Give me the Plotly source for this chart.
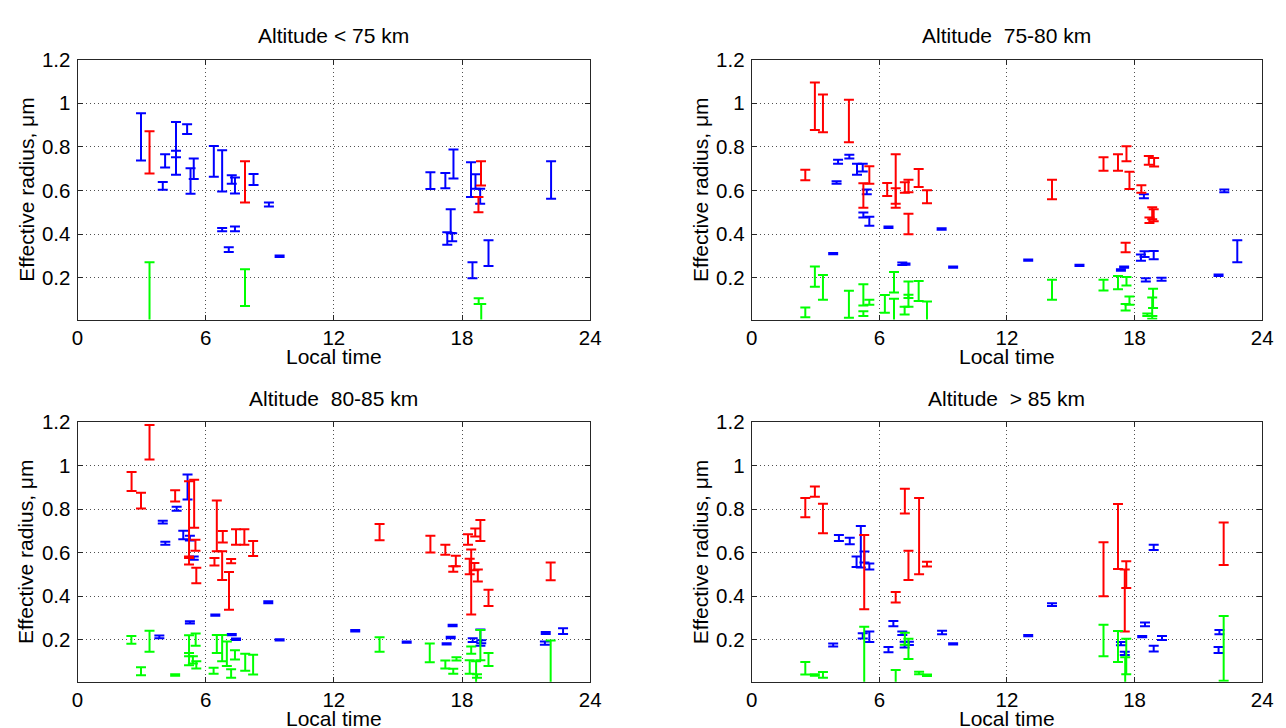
import plotly.graph_objects as go

W, H = 1286, 728

# ---------------- data: local time (h), lower / upper bounds of effective radius (um) ----------------
# Panel 1: Altitude < 75 km
p1_blue_x = [2.97, 3.99, 4.10, 4.61, 4.61, 5.13, 5.44, 5.29, 6.38, 6.77, 6.77, 7.37, 7.08, 7.22, 7.37, 8.24, 8.96, 9.46,
             16.52, 17.22, 17.60, 17.47, 17.31, 17.54, 18.42, 18.63, 18.85, 18.49, 19.24, 22.17]
p1_blue_lo = [0.737, 0.603, 0.705, 0.752, 0.672, 0.859, 0.652, 0.585, 0.663, 0.595, 0.413, 0.413, 0.318, 0.630, 0.586, 0.625, 0.526, 0.295,
              0.606, 0.610, 0.654, 0.405, 0.351, 0.367, 0.570, 0.607, 0.539, 0.197, 0.254, 0.562]
p1_blue_hi = [0.954, 0.639, 0.766, 0.913, 0.782, 0.903, 0.746, 0.702, 0.803, 0.784, 0.428, 0.434, 0.339, 0.669, 0.659, 0.675, 0.544, 0.301,
              0.683, 0.680, 0.787, 0.514, 0.408, 0.404, 0.729, 0.674, 0.607, 0.271, 0.372, 0.734]
p1_red_x = [3.37, 7.84, 18.89, 18.77]
p1_red_lo = [0.677, 0.544, 0.622, 0.500]
p1_red_hi = [0.871, 0.734, 0.734, 0.570]
p1_green_x = [3.37, 7.84, 18.78, 18.90]
p1_green_lo = [-0.06, 0.070, 0.079, -0.03]
p1_green_hi = [0.271, 0.238, 0.106, 0.079]

# Panel 2: Altitude 75-80 km
p2_red_x = [2.52, 2.97, 3.35, 4.57, 5.25, 5.53, 6.37, 6.77, 6.77, 7.20, 7.37, 7.37, 7.85, 8.24,
            14.12, 16.54, 17.22, 17.62, 17.76, 17.58, 18.32, 18.67, 18.92, 18.83, 18.70, 18.90]
p2_red_lo = [0.646, 0.877, 0.867, 0.821, 0.520, 0.631, 0.574, 0.539, 0.520, 0.589, 0.592, 0.399, 0.615, 0.541,
             0.559, 0.690, 0.690, 0.734, 0.606, 0.316, 0.589, 0.717, 0.710, 0.468, 0.450, 0.458]
p2_red_hi = [0.695, 1.094, 1.039, 1.016, 0.633, 0.711, 0.634, 0.766, 0.610, 0.637, 0.649, 0.493, 0.698, 0.601,
             0.649, 0.752, 0.766, 0.802, 0.686, 0.360, 0.624, 0.758, 0.748, 0.523, 0.476, 0.514]
p2_blue_x = [4.06, 3.99, 4.59, 4.95, 5.22, 5.41, 5.25, 5.53, 3.83, 6.43, 7.08, 7.23, 8.93, 9.47,
             13.00, 15.41, 17.36, 17.51, 18.30, 18.47, 18.90, 18.44, 18.53, 19.27, 21.95, 22.22, 22.83]
p2_blue_lo = [0.722, 0.631, 0.746, 0.672, 0.687, 0.582, 0.476, 0.438, 0.307, 0.428, 0.258, 0.259, 0.420, 0.245,
              0.277, 0.253, 0.232, 0.245, 0.277, 0.295, 0.284, 0.564, 0.182, 0.186, 0.208, 0.591, 0.271]
p2_blue_hi = [0.740, 0.642, 0.763, 0.722, 0.722, 0.604, 0.499, 0.479, 0.313, 0.434, 0.270, 0.265, 0.426, 0.251,
              0.283, 0.259, 0.238, 0.251, 0.306, 0.321, 0.322, 0.582, 0.197, 0.200, 0.214, 0.604, 0.372]
p2_green_x = [2.52, 2.97, 3.35, 4.57, 5.25, 5.25, 5.53, 6.26, 6.69, 6.69, 7.19, 7.37, 7.37, 7.85, 8.24,
              14.12, 16.54, 17.22, 17.62, 17.58, 17.76, 18.87, 18.83, 18.60, 18.83]
p2_green_lo = [0.018, 0.158, 0.099, 0.016, 0.072, 0.024, 0.076, 0.039, 0.132, -0.03, 0.031, 0.067, 0.107, 0.093, -0.03,
               0.099, 0.141, 0.147, 0.164, 0.049, 0.076, 0.061, 0.024, 0.024, 0.012]
p2_green_hi = [0.063, 0.251, 0.212, 0.140, 0.170, 0.046, 0.099, 0.120, 0.226, 0.103, 0.067, 0.182, 0.122, 0.185, 0.091,
               0.190, 0.190, 0.208, 0.203, 0.079, 0.114, 0.149, 0.109, 0.036, 0.024]

# Panel 3: Altitude 80-85 km
p3_red_x = [3.37, 2.53, 2.97, 4.57, 5.22, 5.46, 5.52, 5.22, 5.56, 6.41, 6.52, 6.80, 6.77, 7.19, 7.09, 7.42, 7.81, 8.22,
            14.14, 16.52, 17.22, 17.71, 17.59, 18.28, 18.62, 18.86, 18.43, 18.36, 18.58, 18.74, 19.24, 22.15]
p3_red_lo = [1.027, 0.883, 0.802, 0.835, 0.576, 0.714, 0.609, 0.546, 0.460, 0.541, 0.606, 0.647, 0.475, 0.552, 0.338, 0.636, 0.636, 0.585,
             0.657, 0.601, 0.591, 0.538, 0.513, 0.636, 0.674, 0.654, 0.317, 0.501, 0.519, 0.468, 0.355, 0.474]
p3_red_hi = [1.186, 0.970, 0.875, 0.886, 0.928, 0.934, 0.659, 0.583, 0.531, 0.576, 0.839, 0.699, 0.606, 0.571, 0.511, 0.707, 0.707, 0.654,
             0.732, 0.678, 0.636, 0.586, 0.538, 0.684, 0.711, 0.750, 0.614, 0.572, 0.553, 0.523, 0.430, 0.555]
p3_blue_x = [5.15, 4.64, 3.99, 4.11, 4.95, 5.26, 5.44, 5.26, 3.83, 6.45, 7.22, 7.42, 8.93, 9.46,
             13.00, 15.41, 17.56, 17.47, 17.28, 18.50, 18.86, 18.90, 21.92, 21.88, 22.73]
p3_blue_lo = [0.844, 0.792, 0.734, 0.636, 0.662, 0.656, 0.568, 0.275, 0.208, 0.311, 0.221, 0.200, 0.368, 0.197,
              0.239, 0.187, 0.263, 0.208, 0.179, 0.190, 0.173, 0.185, 0.227, 0.178, 0.227]
p3_blue_hi = [0.959, 0.811, 0.746, 0.650, 0.701, 0.678, 0.583, 0.286, 0.220, 0.317, 0.227, 0.206, 0.377, 0.203,
              0.245, 0.193, 0.269, 0.214, 0.185, 0.208, 0.248, 0.198, 0.236, 0.193, 0.253]
p3_green_x = [2.52, 3.37, 2.97, 4.57, 5.22, 5.53, 5.22, 5.40, 5.56, 6.37, 6.52, 6.77, 6.99, 7.19, 7.37, 7.85, 8.22,
              14.14, 16.49, 17.22, 17.59, 17.74, 18.43, 18.36, 18.66, 18.86, 19.24, 18.70, 22.15]
p3_green_lo = [0.182, 0.146, 0.038, 0.036, 0.125, 0.173, 0.084, 0.092, 0.069, 0.045, 0.140, 0.102, 0.080, 0.027, 0.110, 0.059, 0.041,
               0.146, 0.098, 0.069, 0.045, 0.105, 0.137, 0.045, -0.02, 0.107, 0.080, 0.027, -0.20]
p3_green_hi = [0.218, 0.242, 0.075, 0.042, 0.221, 0.229, 0.140, 0.125, 0.102, 0.072, 0.223, 0.223, 0.193, 0.065, 0.152, 0.137, 0.132,
               0.212, 0.183, 0.105, 0.068, 0.120, 0.170, 0.107, 0.102, 0.245, 0.140, 0.042, 0.197]

# Panel 4: Altitude > 85 km
p4_red_x = [2.52, 2.97, 3.35, 5.29, 6.77, 7.20, 7.37, 7.87, 8.24, 16.54, 17.22, 17.61, 17.54, 22.19]
p4_red_lo = [0.762, 0.857, 0.689, 0.340, 0.371, 0.780, 0.475, 0.501, 0.537, 0.400, 0.525, 0.438, 0.238, 0.543]
p4_red_hi = [0.851, 0.904, 0.824, 0.681, 0.420, 0.893, 0.609, 0.851, 0.558, 0.648, 0.823, 0.561, 0.523, 0.738]
p4_blue_x = [3.83, 4.10, 4.61, 5.13, 4.93, 5.30, 5.53, 5.22, 5.53, 6.43, 6.66, 7.08, 7.19, 7.39, 8.95, 9.47,
             13.00, 14.12, 17.36, 17.54, 18.36, 18.49, 18.90, 18.90, 19.29, 21.99, 21.95]
p4_blue_lo = [0.170, 0.653, 0.639, 0.532, 0.534, 0.555, 0.523, 0.206, 0.190, 0.143, 0.263, 0.223, 0.165, 0.177, 0.226, 0.179,
              0.217, 0.356, 0.176, 0.131, 0.212, 0.263, 0.612, 0.147, 0.200, 0.226, 0.140]
p4_blue_hi = [0.183, 0.681, 0.669, 0.722, 0.582, 0.605, 0.550, 0.230, 0.238, 0.167, 0.287, 0.239, 0.192, 0.192, 0.242, 0.185,
              0.223, 0.368, 0.190, 0.146, 0.218, 0.280, 0.636, 0.173, 0.218, 0.245, 0.167]
p4_green_x = [2.52, 3.35, 2.97, 5.29, 6.77, 7.20, 7.37, 7.87, 8.24, 16.54, 17.22, 17.61, 17.56, 22.19]
p4_green_lo = [0.041, 0.026, 0.036, -0.10, -0.05, 0.178, 0.113, 0.042, 0.035, 0.125, 0.099, 0.042, -0.03, 0.013]
p4_green_hi = [0.099, 0.053, 0.042, 0.260, 0.062, 0.233, 0.205, 0.054, 0.041, 0.269, 0.241, 0.205, 0.120, 0.310]

titles = ["Altitude < 75 km", "Altitude  75-80 km", "Altitude  80-85 km", "Altitude  > 85 km"]
x_ticks = [0, 6, 12, 18, 24]
y_ticks = [0.2, 0.4, 0.6, 0.8, 1.0, 1.2]
y_tick_text = ["0.2", "0.4", "0.6", "0.8", "1", "1.2"]

panels = [
    [("blue", p1_blue_x, p1_blue_lo, p1_blue_hi), ("red", p1_red_x, p1_red_lo, p1_red_hi), ("green", p1_green_x, p1_green_lo, p1_green_hi)],
    [("blue", p2_blue_x, p2_blue_lo, p2_blue_hi), ("red", p2_red_x, p2_red_lo, p2_red_hi), ("green", p2_green_x, p2_green_lo, p2_green_hi)],
    [("blue", p3_blue_x, p3_blue_lo, p3_blue_hi), ("red", p3_red_x, p3_red_lo, p3_red_hi), ("green", p3_green_x, p3_green_lo, p3_green_hi)],
    [("blue", p4_blue_x, p4_blue_lo, p4_blue_hi), ("red", p4_red_x, p4_red_lo, p4_red_hi), ("green", p4_green_x, p4_green_lo, p4_green_hi)],
]
colors = {"blue": "#0000ff", "red": "#ff0000", "green": "#00ff00"}

# ---------------- layout geometry (pixels) ----------------
px_left = [(72.5, 592.0), (755.7, 1273.0)]
px_rows = [(48.3, 312.7), (416.7, 681.0)]

FONT = "Liberation Sans, Arial, sans-serif"
GRID = dict(showgrid=True, gridcolor="#505050", griddash="1px,3px", gridwidth=1)
fig = go.Figure()
layout = dict(
    width=W, height=H, margin=dict(l=0, r=0, t=0, b=0),
    paper_bgcolor="white", plot_bgcolor="white", showlegend=False,
    font=dict(family=FONT, size=20, color="#000000"),
)
annotations = []
for i in range(4):
    r, c = divmod(i, 2)
    x0, x1 = px_left[c]
    y0, y1 = px_rows[r]
    suffix = "" if i == 0 else str(i + 1)
    xa, ya = "xaxis" + suffix, "yaxis" + suffix
    layout[xa] = dict(
        domain=[x0 / W, x1 / W], anchor="y" + suffix, range=[0, 24],
        tickvals=x_ticks, ticks="inside", ticklen=5, tickcolor="#262626",
        showline=True, linecolor="#262626", linewidth=1, mirror="ticks",
        zeroline=False, tickfont=dict(size=20.5, family=FONT), ticklabelstandoff=0, **GRID,
    )
    layout[ya] = dict(
        domain=[1 - y1 / H, 1 - y0 / H], anchor="x" + suffix, range=[0.008, 1.2],
        tickvals=y_ticks, ticktext=y_tick_text, ticks="inside", ticklen=5, tickcolor="#262626",
        showline=True, linecolor="#262626", linewidth=1, mirror="ticks",
        zeroline=False, tickfont=dict(size=20.5, family=FONT), ticklabelstandoff=2, **GRID,
    )
    for name, xs, lo, hi in panels[i]:
        yc = [(a + b) / 2 for a, b in zip(lo, hi)]
        er = [(b - a) / 2 for a, b in zip(lo, hi)]
        fig.add_trace(go.Scatter(
            x=xs, y=yc, mode="markers", xaxis="x" + suffix, yaxis="y" + suffix,
            marker=dict(size=1, color="rgba(0,0,0,0)"),
            error_y=dict(type="data", array=er, symmetric=True, color=colors[name], thickness=2, width=5),
            cliponaxis=True, hoverinfo="skip",
        ))
    cx = (x0 + x1) / 2
    annotations.append(dict(text=titles[i], x=cx / W, y=1 - (y0 - 24) / H, xref="paper", yref="paper",
                            showarrow=False, xanchor="center", yanchor="middle", font=dict(size=21, family=FONT)))
    annotations.append(dict(text="Local time", x=cx / W, y=1 - (y1 + 37.5) / H, xref="paper", yref="paper",
                            showarrow=False, xanchor="center", yanchor="middle", font=dict(size=21, family=FONT)))
    annotations.append(dict(text="Effective radius, μm", x=(x0 - 52) / W, y=1 - ((y0 + y1) / 2) / H,
                            xref="paper", yref="paper", showarrow=False, textangle=-90,
                            xanchor="center", yanchor="middle", font=dict(size=21, family=FONT)))
layout["annotations"] = annotations
fig.update_layout(**layout)
fig.write_html("out.html")
